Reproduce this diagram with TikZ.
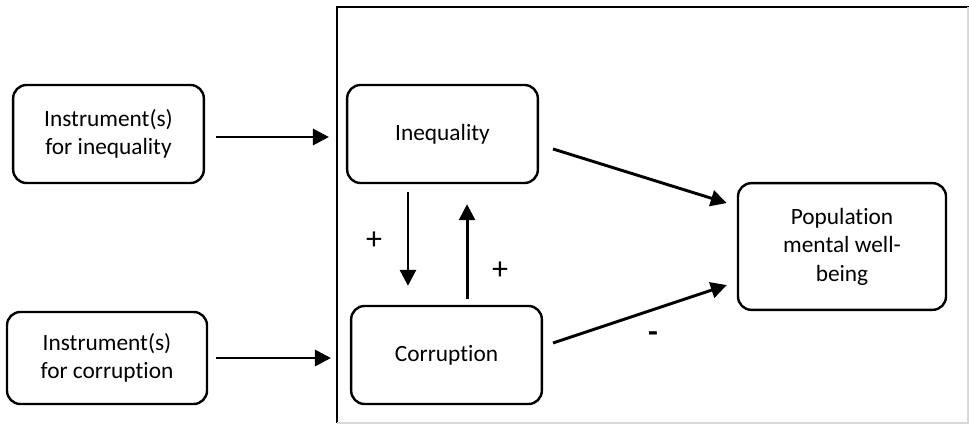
\documentclass[tikz,border=0pt]{standalone}
\usepackage{fontspec}
\setmainfont[Ligatures=NoCommon]{Carlito}
\usetikzlibrary{arrows.meta}

\begin{document}
\begin{tikzpicture}[x=0.75pt,y=-0.75pt,
	box/.style={draw, line width=1.8pt, rounded corners=10pt, align=center,
		inner sep=0pt, font=\fontsize{17.5}{21.4}\selectfont},
	link/.style={line width=2.2pt, -{Triangle[length=12pt,width=12pt]}},
	sign/.style={inner sep=0pt, font=\fontsize{24}{28}\selectfont}]

\useasboundingbox (0,0) rectangle (969,424);

% outer frame
\draw[line width=2.2pt] (337,423) -- (337,7) -- (969,7);
\draw[black!15, line width=1pt] (968,7) -- (968,423) -- (337,423);

\node[box, minimum width=143pt, minimum height=73.5pt] (inst1) at (108.5,134) {Instrument(s)\\for inequality};
\node[box, minimum width=150pt, minimum height=69pt] (inst2) at (107,358) {Instrument(s)\\for corruption};
\node[box, minimum width=143pt, minimum height=73.5pt] (ineq) at (442.5,134) {Inequality};
\node[box, minimum width=143pt, minimum height=73.5pt] (corr) at (446.5,355) {Corruption};
\node[box, minimum width=156pt, minimum height=95pt] (pop) at (842,246.5) {Population\\mental well-\\being};

\draw[link, shorten <=8.25pt, shorten >=12.75pt] ([yshift=-2.25pt]inst1.east) -- ([yshift=-2.25pt]ineq.west);
\draw[link, shorten <=6pt, shorten >=14.25pt] (inst2.east) -- ([yshift=-2.25pt]corr.west);
\draw[link] ([xshift=10.5pt,yshift=-11.25pt]ineq.east) -- ([xshift=-7.5pt,yshift=32.6pt]pop.west);
\draw[link] ([xshift=7.5pt,yshift=9pt]corr.east) -- ([xshift=-7.5pt,yshift=-28.9pt]pop.west);
\draw[link] ([xshift=-25.9pt,yshift=-6pt]ineq.south) -- ([xshift=-28.9pt,yshift=14.25pt]corr.north);
\draw[link] ([xshift=15.4pt,yshift=4.5pt]corr.north) -- ([xshift=18.4pt,yshift=-15pt]ineq.south);

\node[sign] (plus1) at (374,241) {+};
\node[sign] (plus2) at (500,271) {+};
\node[sign, font=\fontsize{24}{28}\selectfont\bfseries] (minus) at (653,337) {-};

\end{tikzpicture}
\end{document}
